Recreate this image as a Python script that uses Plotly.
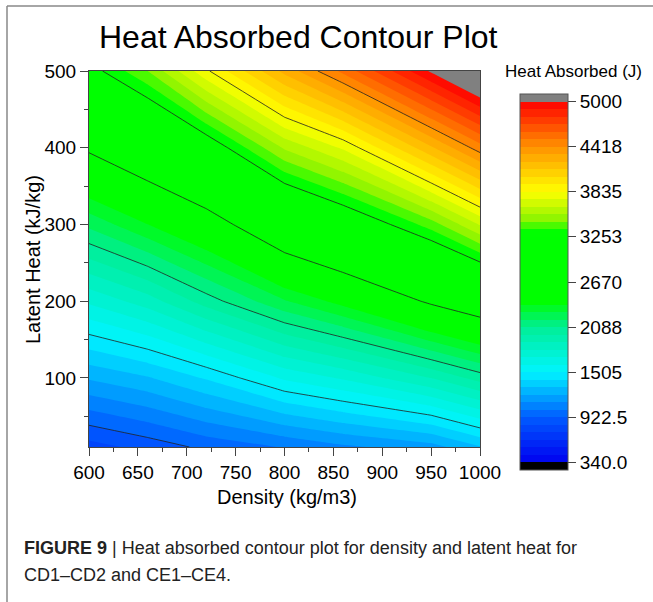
import plotly.graph_objects as go

# Grid of the surface: density (kg/m3) across, latent heat (kJ/kg) up
density = [600, 660, 720, 800, 860, 950, 1000]
latent_heat = [10, 100, 200, 300, 400, 500]

# Heat absorbed (J), one row per latent-heat value, one column per density
heat_absorbed = [
    [783, 862, 947, 1028, 1097, 1173, 1304],
    [1226, 1301, 1419, 1619, 1713, 1895, 2031],
    [1718, 1846, 2037, 2271, 2422, 2703, 2838],
    [2210, 2377, 2549, 2901, 3085, 3397, 3650],
    [2702, 2893, 3138, 3558, 3754, 4207, 4469],
    [3194, 3447, 3816, 4254, 4542, 5016, 5282],
]

# Colour-bar tick values and their labels
level_ticks = [340, 922.5, 1505, 2088, 2670, 3253, 3835, 4418, 5000]
level_labels = ["340.0", "922.5", "1505", "2088", "2670", "3253", "3835", "4418", "5000"]

# Level layout: 6 filled bands between neighbouring major levels
z_lo, z_hi = level_ticks[0], level_ticks[-1]
n_bands = 48
band = (z_hi - z_lo) / n_bands
n_levels = n_bands + 1

def frac(z):
    # position of value z on plotly's filled-contour colour axis
    return ((z - z_lo) / band + 0.5) / n_levels

rainbow = [
    (340, "rgb(0,0,240)"),
    (922.5, "rgb(0,92,255)"),
    (1505, "rgb(0,245,255)"),
    (2088, "rgb(0,238,150)"),
    (2420, "rgb(0,255,0)"),
    (3300, "rgb(0,255,0)"),
    (3500, "rgb(150,245,0)"),
    (3835, "rgb(255,255,0)"),
    (4418, "rgb(255,145,0)"),
    (5000, "rgb(255,0,0)"),
]
colorscale = [[0.0, "rgb(0,0,0)"]] + [[frac(z), c] for z, c in rainbow] + [[1.0, "rgb(128,128,128)"]]

FONT = "Liberation Sans, Arial, sans-serif"

# plot-area geometry in pixels (used to place text outside the axes)
W, H = 653, 602
L, R, T, B = 89, 480, 71, 447

def px(x):
    return (x - L) / (R - L)

def py(y):
    return (B - y) / (B - T)

fig = go.Figure()

fig.add_trace(go.Contour(
    x=density, y=latent_heat, z=heat_absorbed,
    autocontour=False,
    contours=dict(start=z_lo, end=z_hi, size=band, coloring="fill", showlines=False),
    line=dict(width=0, smoothing=0),
    colorscale=colorscale,
    zmin=z_lo - band, zmax=z_hi + band,
    colorbar=dict(
        thicknessmode="pixels", thickness=48,
        lenmode="pixels", len=376,
        x=px(520), xanchor="left", xpad=0,
        y=py(94), yanchor="top", ypad=0,
        outlinewidth=1, outlinecolor="#555",
        tickmode="array", tickvals=level_ticks, ticktext=level_labels,
        ticks="outside", ticklen=8, tickcolor="#444",
        tickfont=dict(family=FONT, size=19, color="black"),
        title=dict(text=""),
    ),
    hoverinfo="skip",
))

# black iso-lines on the major levels
fig.add_trace(go.Contour(
    x=density, y=latent_heat, z=heat_absorbed,
    autocontour=False,
    contours=dict(start=level_ticks[1], end=level_ticks[-2], size=level_ticks[2] - level_ticks[1],
                  coloring="none", showlines=True),
    line=dict(width=0.8, color="#222", smoothing=0),
    showscale=False,
    hoverinfo="skip",
))

axis_common = dict(
    showline=True, linecolor="#444", linewidth=1, mirror=True,
    ticks="outside", ticklen=8, tickcolor="#444",
    showgrid=False, zeroline=False,
    tickfont=dict(family=FONT, size=19, color="black"),
)

fig.update_xaxes(range=[600, 1000], tickmode="linear", tick0=600, dtick=50,
                 minor=dict(ticks="outside", ticklen=4, dtick=25, tick0=600, tickcolor="#444"),
                 **axis_common)
fig.update_yaxes(range=[10, 500], tickmode="linear", tick0=100, dtick=100,
                 minor=dict(ticks="outside", ticklen=4, dtick=50, tick0=0, tickcolor="#444"),
                 **axis_common)

annotations = [
    dict(text="Heat Absorbed Contour Plot", x=px(298), y=py(37), font=dict(size=32)),
    dict(text="Density (kg/m3)", x=px(287), y=py(497), font=dict(size=20)),
    dict(text="Latent Heat (kJ/kg)", x=px(33), y=py(260), textangle=-90, font=dict(size=20)),
    dict(text="Heat Absorbed (J)", x=px(573), y=py(72), font=dict(size=17)),
    dict(text="<b>FIGURE 9</b> | Heat absorbed contour plot for density and latent heat for",
         x=px(22), y=py(548), xanchor="left", font=dict(size=18, color="#222")),
    dict(text="CD1–CD2 and CE1–CE4.",
         x=px(22), y=py(575), xanchor="left", font=dict(size=18, color="#222")),
]
for a in annotations:
    base = dict(xref="paper", yref="paper", showarrow=False, xanchor="center", yanchor="middle")
    base.update(a)
    f = dict(family=FONT, color="black")
    f.update(a.get("font", {}))
    base["font"] = f
    fig.add_annotation(**base)

# frame around the figure panel
fig.add_shape(type="line", xref="paper", yref="paper",
              x0=px(7), x1=px(7), y0=py(6), y1=py(602), line=dict(color="#888", width=1.5))
fig.add_shape(type="line", xref="paper", yref="paper",
              x0=px(7), x1=px(653), y0=py(6), y1=py(6), line=dict(color="#888", width=1.5))

fig.update_layout(
    width=W, height=H,
    margin=dict(l=L, r=W - R, t=T, b=H - B),
    paper_bgcolor="white", plot_bgcolor="white",
    showlegend=False,
    font=dict(family=FONT),
)

fig.write_html("out.html")
